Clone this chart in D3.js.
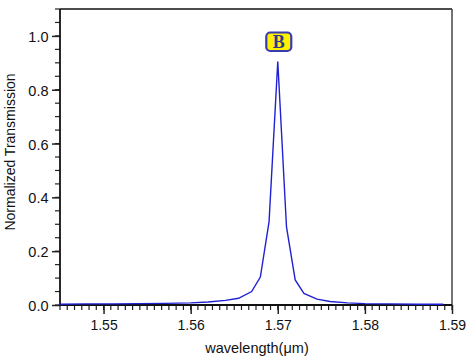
<!DOCTYPE html>
<html><head><meta charset="utf-8">
<script src="https://cdn.jsdelivr.net/npm/d3@7"></script>
<style>body{margin:0;background:#fff}svg{display:block}</style>
</head><body>
<svg id="c" width="474" height="358"></svg>
<script>
const wavelength = [1.545,1.548,1.551,1.554,1.557,1.560,1.562,1.564,1.5655,1.567,1.568,1.569,1.570,1.571,1.572,1.573,1.5745,1.576,1.578,1.580,1.583,1.586,1.589];
const transmission = [0.003,0.004,0.004,0.005,0.006,0.008,0.011,0.017,0.025,0.050,0.104,0.310,0.905,0.290,0.093,0.043,0.022,0.013,0.008,0.005,0.004,0.003,0.003];
const xTicks = [1.55,1.56,1.57,1.58,1.59];
const yTicks = [0.0,0.2,0.4,0.6,0.8,1.0];
const peakLabel = "B";

const svg = d3.select("#c");
const L=60,R=452,T=9,B=305;
const x = d3.scaleLinear().domain([1.545,1.59]).range([L,R]);
const y = d3.scaleLinear().domain([0,1.1]).range([B,T]);
const font = "'Liberation Sans', Arial, sans-serif";

// minor ticks
const xMinor = d3.range(0,55).map(i=>1.545+i*0.01/12).filter(v=>v<=1.5901);
const yMinor = d3.range(0,23).map(i=>i*0.05);

const xa = svg.append("g").attr("transform",`translate(0,${B})`);
xa.selectAll("line.mn").data(xMinor).join("line")
  .attr("x1",d=>x(d)).attr("x2",d=>x(d)).attr("y1",0).attr("y2",5)
  .attr("stroke","#222").attr("stroke-width",1.2);
xa.call(d3.axisBottom(x).tickValues(xTicks).tickFormat(d3.format(".2f")).tickSize(9).tickSizeOuter(0))
  .call(g=>g.select(".domain").remove())
  .call(g=>g.selectAll(".tick line").attr("stroke","#222").attr("stroke-width",1.5))
  .call(g=>g.selectAll(".tick text").attr("font-family",font).attr("font-size",14).attr("fill","#111").attr("y",24.5).attr("dy",0));

const ya = svg.append("g").attr("transform",`translate(${L},0)`);
ya.selectAll("line.mn").data(yMinor).join("line")
  .attr("x1",0).attr("x2",-5).attr("y1",d=>y(d)).attr("y2",d=>y(d))
  .attr("stroke","#222").attr("stroke-width",1.2);
ya.call(d3.axisLeft(y).tickValues(yTicks).tickFormat(d3.format(".1f")).tickSize(8).tickSizeOuter(0))
  .call(g=>g.select(".domain").remove())
  .call(g=>g.selectAll(".tick line").attr("stroke","#222").attr("stroke-width",1.5))
  .call(g=>g.selectAll(".tick text").attr("font-family",font).attr("font-size",14.5).attr("fill","#111").attr("x",-11.5).attr("dy","0.38em"));

// frame
svg.append("line").attr("x1",L).attr("x2",R).attr("y1",T).attr("y2",T).attr("stroke","#111").attr("stroke-width",1.5);
svg.append("line").attr("x1",R).attr("x2",R).attr("y1",T).attr("y2",B).attr("stroke","#444").attr("stroke-width",1.5);
svg.append("line").attr("x1",L).attr("x2",L).attr("y1",T).attr("y2",B).attr("stroke","#111").attr("stroke-width",1.8);
svg.append("line").attr("x1",L).attr("x2",R).attr("y1",B).attr("y2",B).attr("stroke","#111").attr("stroke-width",1.8);

// curve
const data = wavelength.map((w,i)=>({w,t:transmission[i]}));
svg.append("path").datum(data)
  .attr("d",d3.line().x(d=>x(d.w)).y(d=>y(d.t)))
  .attr("fill","none").attr("stroke","#2121d4").attr("stroke-width",1.4);

// peak label
const pi = d3.maxIndex(transmission);
const px = x(wavelength[pi]);
const lg = svg.append("g");
lg.append("rect").attr("x",px-11.5).attr("y",32.5).attr("width",25).attr("height",18.5).attr("rx",4)
  .attr("fill","#fff200").attr("stroke","#3b3bb0").attr("stroke-width",2.2);
lg.append("text").attr("x",px+1).attr("y",48).attr("text-anchor","middle")
  .attr("font-family","'Liberation Serif','Times New Roman',serif").attr("font-weight","bold")
  .attr("font-size",18).attr("fill","#2e3a8c").text(peakLabel);

// axis titles
svg.append("text").attr("x",257).attr("y",353).attr("text-anchor","middle")
  .attr("font-family",font).attr("font-size",14.5).attr("fill","#111").text("wavelength(μm)");
svg.append("text").attr("transform",`translate(15,152) rotate(-90)`).attr("text-anchor","middle")
  .attr("font-family",font).attr("font-size",14).attr("fill","#111").text("Normalized Transmission");
</script>
</body></html>
